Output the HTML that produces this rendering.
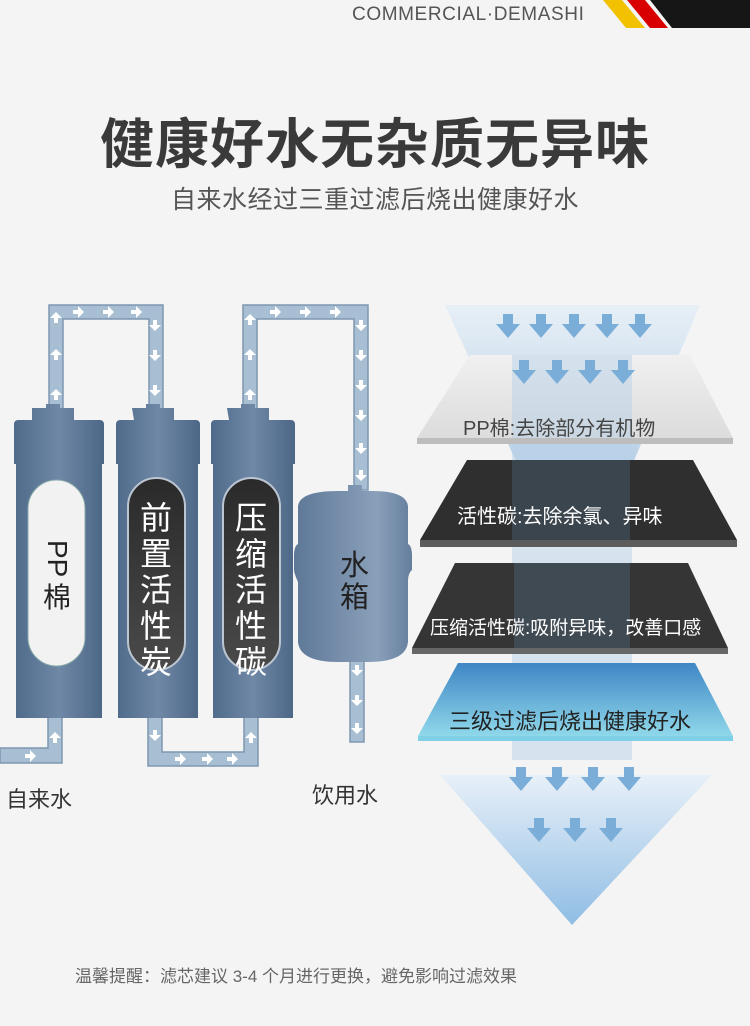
<!DOCTYPE html>
<html><head><meta charset="utf-8"><style>
html,body{margin:0;padding:0;background:#f4f4f4;}
body{width:750px;height:1026px;position:relative;overflow:hidden;font-family:"Liberation Sans","Noto Sans CJK SC",sans-serif;}
.t{position:absolute;white-space:nowrap;}
</style></head><body>
<svg width="750" height="1026" style="position:absolute;left:0;top:0" xmlns="http://www.w3.org/2000/svg">
<defs>
<linearGradient id="cart" x1="0" x2="1"><stop offset="0" stop-color="#4f6a8a"/><stop offset=".5" stop-color="#6f88a6"/><stop offset="1" stop-color="#4c6686"/></linearGradient>
<linearGradient id="tank" x1="0" x2="1"><stop offset="0" stop-color="#5d7797"/><stop offset=".7" stop-color="#8aa0ba"/><stop offset="1" stop-color="#647e9c"/></linearGradient>
<linearGradient id="funT" x1="0" y1="0" x2="0" y2="1"><stop offset="0" stop-color="#e4eef7"/><stop offset="1" stop-color="#a7c6e2"/></linearGradient>
<linearGradient id="funB" x1="0" y1="0" x2="0" y2="1"><stop offset="0" stop-color="#e8f0f8"/><stop offset="1" stop-color="#8fbde4"/></linearGradient>
<linearGradient id="blue" x1="0" y1="0" x2="0" y2="1"><stop offset="0" stop-color="#3f86c4"/><stop offset="1" stop-color="#8fd8ea"/></linearGradient>
<linearGradient id="dark" x1="0" y1="0" x2="0" y2="1"><stop offset="0" stop-color="#2a2a2a"/><stop offset="1" stop-color="#4a4a4a"/></linearGradient>
<linearGradient id="pp" x1="0" y1="0" x2="0" y2="1"><stop offset="0" stop-color="#f0f0f0"/><stop offset="1" stop-color="#dcdcdc"/></linearGradient>
<g id="ar"><path d="M-5,-2 h5 v-4 l6,6 l-6,6 v-4 h-5z" fill="#fff"/></g>
<g id="bd"><path d="M-5,-18 h10 v10 h7 l-12,14 l-12,-14 h7z" fill="#7aaed8"/></g>
</defs>
<polygon points="603,0 622,0 645,28 626,28" fill="#f2c200"/>
<polygon points="627,0 645,0 668,28 650,28" fill="#d80000"/>
<polygon points="650,0 750,0 750,28 672,28" fill="#161616"/>

<g fill="#a8bed2" stroke="#7f97b0" stroke-width="1.5">
<path d="M49,410 V305 H163 V410 H149 V319 H63 V410Z"/>
<path d="M243,410 V305 H368 V490 H354 V319 H257 V410Z"/>
<rect x="350" y="650" width="14" height="92"/>
<path d="M0,748 H48 V715 H62 V763 H0Z"/>
<path d="M148,715 H162 V752 H244 V715 H258 V766 H148Z"/>
</g>
<g>
<use href="#ar" transform="translate(56,395) rotate(-90)"/><use href="#ar" transform="translate(56,355) rotate(-90)"/><use href="#ar" transform="translate(56,318) rotate(-90)"/>
<use href="#ar" transform="translate(78,312)"/><use href="#ar" transform="translate(108,312)"/><use href="#ar" transform="translate(136,312)"/>
<use href="#ar" transform="translate(155,325) rotate(90)"/><use href="#ar" transform="translate(155,355) rotate(90)"/><use href="#ar" transform="translate(155,390) rotate(90)"/>
<use href="#ar" transform="translate(250,395) rotate(-90)"/><use href="#ar" transform="translate(250,355) rotate(-90)"/><use href="#ar" transform="translate(250,320) rotate(-90)"/>
<use href="#ar" transform="translate(275,312)"/><use href="#ar" transform="translate(305,312)"/><use href="#ar" transform="translate(335,312)"/>
<use href="#ar" transform="translate(361,325) rotate(90)"/><use href="#ar" transform="translate(361,355) rotate(90)"/><use href="#ar" transform="translate(361,385) rotate(90)"/><use href="#ar" transform="translate(361,415) rotate(90)"/><use href="#ar" transform="translate(361,448) rotate(90)"/><use href="#ar" transform="translate(361,475) rotate(90)"/>
<use href="#ar" transform="translate(357,670) rotate(90)"/><use href="#ar" transform="translate(357,700) rotate(90)"/><use href="#ar" transform="translate(357,728) rotate(90)"/>
<use href="#ar" transform="translate(30,756)"/><use href="#ar" transform="translate(55,738) rotate(-90)"/>
<use href="#ar" transform="translate(155,735) rotate(90)"/><use href="#ar" transform="translate(180,759)"/><use href="#ar" transform="translate(207,759)"/><use href="#ar" transform="translate(232,759)"/><use href="#ar" transform="translate(251,738) rotate(-90)"/>
</g>
<g fill="url(#cart)">
<path d="M32,408 h14 v-4 h14 v4 h14 v12 h26 a4,4 0 0 1 4,4 v40 h-2 v254 h-86 v-254 h-2 v-40 a4,4 0 0 1 4,-4 h14z"/>
<path d="M132,408 h14 v-4 h14 v4 h14 v12 h22 a4,4 0 0 1 4,4 v40 h-2 v254 h-80 v-254 h-2 v-40 a4,4 0 0 1 4,-4 h14z"/>
<path d="M227,408 h14 v-4 h14 v4 h14 v12 h22 a4,4 0 0 1 4,4 v40 h-2 v254 h-80 v-254 h-2 v-40 a4,4 0 0 1 4,-4 h14z"/>
</g>
<path d="M338,491 h10 v-6 h14 v6 h10 q34,0 36,15 v38 q4,2 4,12 v14 q-4,3 -4,12 v60 q-2,20 -40,20 h-30 q-38,0 -40,-20 v-60 q-4,-9 -4,-12 v-14 q0,-10 4,-12 v-38 q2,-15 40,-15z" fill="url(#tank)"/>
<rect x="28" y="480" width="57" height="186" rx="28.5" fill="#f2f2f2" stroke="#8aa" stroke-width="1"/>
<rect x="128" y="478" width="57" height="192" rx="28.5" fill="url(#dark)" stroke="#bcc6d2" stroke-width="2"/>
<rect x="223" y="478" width="57" height="192" rx="28.5" fill="url(#dark)" stroke="#bcc6d2" stroke-width="2"/>

<polygon points="445,305 700,305 630,470 520,470" fill="url(#funT)" opacity=".8"/>
<polygon points="512,440 632,440 632,760 512,760" fill="#b7d2ea" opacity=".5"/>
<polygon points="440,775 712,775 572,925" fill="url(#funB)"/>
<polygon points="470,355 690,355 733,438 417,438" fill="url(#pp)"/>
<rect x="417" y="438" width="316" height="6" fill="#bdbdbd"/>
<polygon points="512,355 632,355 632,438 512,438" fill="#b4d0e8" opacity=".45"/>
<polygon points="467,460 693,460 737,540 420,540" fill="#2f2f2f"/>
<rect x="420" y="540" width="317" height="7" fill="#5c5c5c"/>
<polygon points="512,460 630,460 630,540 512,540" fill="#5a7a96" opacity=".3"/>
<polygon points="455,563 688,563 728,648 412,648" fill="#353535"/>
<rect x="412" y="648" width="316" height="6" fill="#666"/>
<polygon points="514,563 630,563 630,648 514,648" fill="#5a7a96" opacity=".3"/>
<polygon points="458,663 695,663 733,736 418,736" fill="url(#blue)"/>
<rect x="418" y="736" width="315" height="5" fill="#7fd0e6"/>
<g>
<use href="#bd" transform="translate(508,332)"/><use href="#bd" transform="translate(541,332)"/><use href="#bd" transform="translate(574,332)"/><use href="#bd" transform="translate(607,332)"/><use href="#bd" transform="translate(640,332)"/>
<use href="#bd" transform="translate(524,378)"/><use href="#bd" transform="translate(557,378)"/><use href="#bd" transform="translate(590,378)"/><use href="#bd" transform="translate(623,378)"/>
<use href="#bd" transform="translate(521,785)"/><use href="#bd" transform="translate(557,785)"/><use href="#bd" transform="translate(593,785)"/><use href="#bd" transform="translate(629,785)"/>
<use href="#bd" transform="translate(539,836)"/><use href="#bd" transform="translate(575,836)"/><use href="#bd" transform="translate(611,836)"/>
</g>
</svg>

<div class="t" style="left:352px;top:4px;font-size:19px;color:#555;letter-spacing:0.6px">COMMERCIAL·DEMASHI</div>
<div class="t" style="left:0;width:750px;text-align:center;top:100px;font-size:54px;font-weight:bold;color:#3a3a3a;letter-spacing:1px">健康好水无杂质无异味</div>
<div class="t" style="left:0;width:750px;text-align:center;top:180px;font-size:25px;color:#555;letter-spacing:0.5px">自来水经过三重过滤后烧出健康好水</div>

<div class="t" style="left:38px;top:540px;font-size:28px;color:#222;line-height:30px;width:38px;text-align:center;white-space:normal"><div style="writing-mode:vertical-rl;display:inline-block">PP</div><br>棉</div>
<div class="t" style="left:140px;top:500px;font-size:32px;color:#fff;line-height:36px;width:34px;white-space:normal">前置活性炭</div>
<div class="t" style="left:235px;top:500px;font-size:32px;color:#fff;line-height:36px;width:34px;white-space:normal">压缩活性碳</div>
<div class="t" style="left:340px;top:550px;font-size:29px;color:#222;line-height:32px;width:30px;white-space:normal">水箱</div>
<div class="t" style="left:6px;top:782px;font-size:22px;color:#333">自来水</div>
<div class="t" style="left:312px;top:778px;font-size:22px;color:#333">饮用水</div>

<div class="t" style="left:463px;top:412px;font-size:20px;color:#444">PP棉:去除部分有机物</div>
<div class="t" style="left:457px;top:500px;font-size:20px;color:#fff">活性碳:去除余氯、异味</div>
<div class="t" style="left:430px;top:613px;font-size:19px;color:#fff">压缩活性碳:吸附异味，改善口感</div>
<div class="t" style="left:449px;top:704px;font-size:22px;color:#222">三级过滤后烧出健康好水</div>

<div class="t" style="left:75px;top:962px;font-size:17px;color:#666">温馨提醒：滤芯建议 3-4 个月进行更换，避免影响过滤效果</div>
</body></html>
